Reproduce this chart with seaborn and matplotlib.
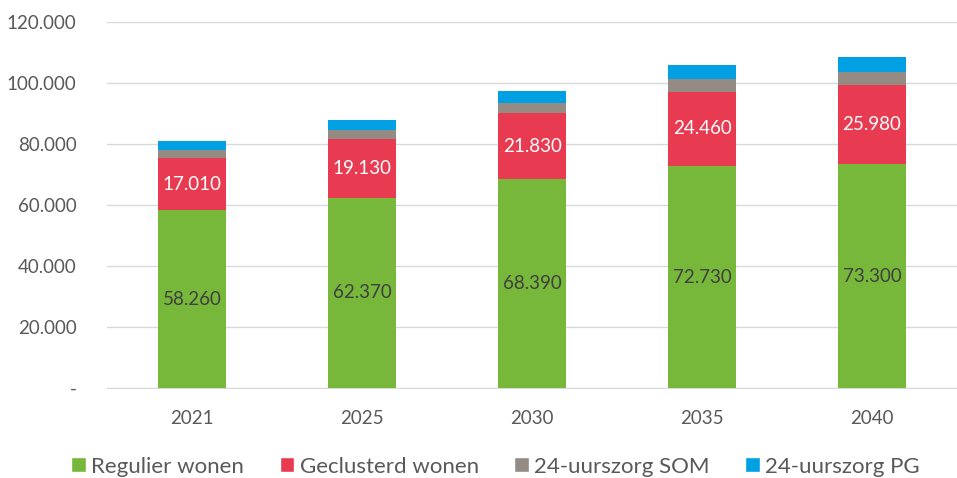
import numpy as np
import pandas as pd
import matplotlib.pyplot as plt
import seaborn as sns
from matplotlib.patches import Patch

jaren = ['2021', '2025', '2030', '2035', '2040']
regulier = [58260, 62370, 68390, 72730, 73300]
geclusterd = [17010, 19130, 21830, 24460, 25980]
som = [2700, 3000, 3300, 4000, 4200]
pg = [3000, 3500, 4000, 4600, 5100]

series = ['Regulier wonen', 'Geclusterd wonen', '24-uurszorg SOM', '24-uurszorg PG']
kleuren = ['#77B83A', '#E83A50', '#958B85', '#00A0E2']

sns.set_style('white')
plt.rcParams['font.family'] = ['Lato', 'DejaVu Sans']

df = pd.DataFrame({'jaar': jaren, series[0]: regulier, series[1]: geclusterd,
                   series[2]: som, series[3]: pg})
cum = df[series].cumsum(axis=1)

fig = plt.figure(figsize=(9.57, 4.78), dpi=100)
ax = fig.add_axes([0.112, 0.188, 0.888, 0.766])

# overlapping bars, tallest (cumulative) first
for naam, kleur in zip(series[::-1], kleuren[::-1]):
    sns.barplot(x=df['jaar'], y=cum[naam], color=kleur, width=0.4,
                saturation=1, linewidth=0, edgecolor='none', ax=ax, zorder=3)

for i in range(len(jaren)):
    ax.text(i, regulier[i] / 2, f'{regulier[i]:,}'.replace(',', '.'),
            ha='center', va='center', fontsize=13.5, color='#404040', zorder=4)
    ax.text(i, regulier[i] + geclusterd[i] / 2, f'{geclusterd[i]:,}'.replace(',', '.'),
            ha='center', va='center', fontsize=13.5, color='white', zorder=4)

ax.set_ylim(0, 120000)
ax.set_xlim(-0.5, 4.5)
ticks = np.arange(0, 120001, 20000)
ax.set_yticks(ticks)
ax.set_yticklabels(['-' if t == 0 else f'{t:,}'.replace(',', '.') for t in ticks])
ax.yaxis.grid(True, color='#D9D9D9', linewidth=1, zorder=0)
ax.set_axisbelow(True)
for s in ['top', 'right', 'left']:
    ax.spines[s].set_visible(False)
ax.spines['bottom'].set_color('#D9D9D9')
ax.tick_params(axis='both', length=0, labelsize=13.5, colors='#595959')
ax.tick_params(axis='x', pad=16)
ax.tick_params(axis='y', pad=22)
ax.set_xlabel('')
ax.set_ylabel('')

handles = [Patch(facecolor=k, label=n) for n, k in zip(series, kleuren)]
fig.legend(handles=handles, loc='center', ncol=4, frameon=False,
           fontsize=16, bbox_to_anchor=(0.518, 0.024), handlelength=0.65,
           handleheight=0.65, handletextpad=0.25, columnspacing=1.6,
           labelcolor='#595959')

fig.savefig('out.png', dpi=100)
